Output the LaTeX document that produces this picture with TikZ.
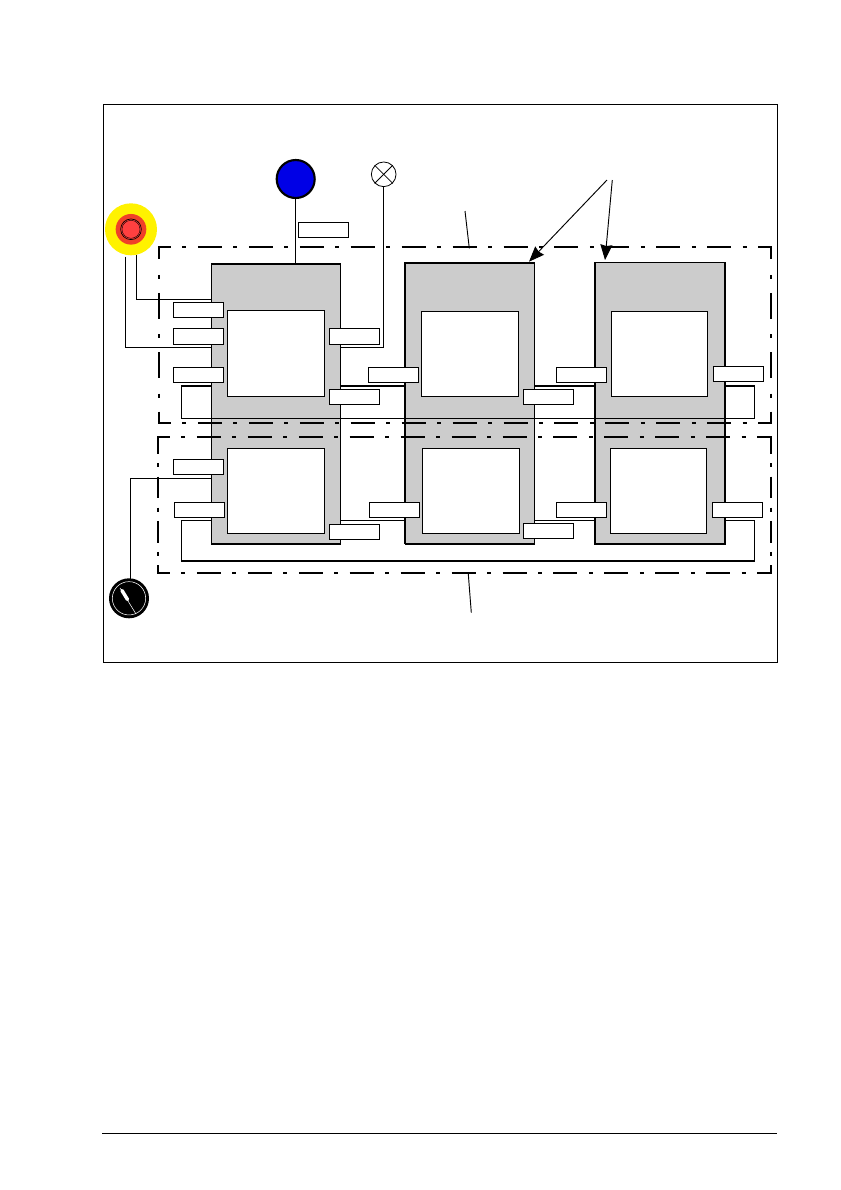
\documentclass[tikz,border=0pt]{standalone}
\usepackage{tikz}
\usetikzlibrary{shapes.geometric, arrows.meta, positioning, calc}

\definecolor{panelgray}{HTML}{CCCCCC}
\definecolor{stopred}{HTML}{F04028}
\definecolor{capred}{HTML}{FF4040}
\definecolor{pushblue}{HTML}{0000E6}

\begin{document}
\begin{tikzpicture}[
    x=0.75pt, y=-0.75pt,
    wire/.style={line width=0.75pt},
    heavy/.style={line width=1.5pt},
    block/.style={rectangle, minimum width=96.75pt, inner sep=0pt, fill=panelgray, draw=black, line width=0.75pt},
    screen/.style={rectangle, minimum width=72.5pt, minimum height=64pt, inner sep=0pt, fill=white, draw=black, line width=0.75pt},
    tag/.style={rectangle, minimum width=37.5pt, minimum height=11.5pt, inner sep=0pt, fill=white, draw=black, line width=0.7pt},
    tagtall/.style={tag, minimum height=12pt},
    bus/.style={rectangle, minimum width=429.75pt, inner sep=0pt, draw=black, line width=0.75pt},
    zoneH/.style={line width=1.6pt, dash pattern=on 18pt off 8.6pt on 3pt off 8.6pt, dash phase=8.25pt},
    zoneV/.style={line width=1.6pt, dash pattern=on 19.5pt off 11.6pt on 3pt off 10.5pt, dash phase=10.25pt},
    zoneVshort/.style={line width=1.6pt, dash pattern=on 16.2pt off 7pt on 3pt off 7pt, dash phase=3.45pt},
    pointer/.style={line width=0.7pt, -{Stealth[length=11.5pt, width=9pt, inset=1pt]}},
    leader/.style={line width=0.7pt},
]
    \useasboundingbox (0,0) rectangle (840,1190);

    \node (frame) [rectangle, draw=black, line width=0.75pt, inner sep=0pt, minimum width=505.5pt, minimum height=418.5pt] at (440.5,383.5) {};
    \node (rule) [rectangle, fill=black, inner sep=0pt, minimum width=506.25pt, minimum height=0.9pt] at (439.5,1133.3) {};

    \node (busU) [bus, minimum height=24.2pt] at (467.8,402.2) {};
    \node (busL) [bus, minimum height=29.8pt] at (467.8,540.2) {};
    \draw [heavy] (busU.north west) -- (busU.north east);
    \draw [heavy] (busL.south west) -- (busL.south east);

    \node (blockA) [block, minimum height=209.25pt] at (276,403.5) {};
    \node (blockB) [block, minimum height=210pt] at (470,403.3) {};
    \node (blockC) [block, minimum height=210.4pt] at (659.5,403) {};

    \draw [heavy] (blockA.north west) -- (blockA.north east);
    \draw [heavy] (blockA.south west) -- (blockA.south east);
    \draw [heavy] (blockB.south west) -- (blockB.north west) -- (blockB.north east);
    \draw [heavy] (blockB.south west) -- (blockB.south east);
    \draw [heavy] (blockC.north west) -- (blockC.south west) -- (blockC.south east) -- (blockC.north east);

    \draw [wire] (busU.south west) -- (busU.south east);

    \node (screenA) [screen] at (276.3,353.5) {};
    \node (screenB) [screen] at (470.3,353.8) {};
    \node (screenC) [screen] at (659.5,353.8) {};
    \node (screenD) [screen] at (275.8,491.3) {};
    \node (screenE) [screen] at (471.3,491.3) {};
    \node (screenF) [screen] at (658.5,491.3) {};

    \draw [zoneH] (158,247) -- (772,247);
    \draw [zoneH] (158,423) -- (772,423);
    \draw [zoneV] (159,247) -- (159,423);
    \draw [zoneV] (771,247) -- (771,423);

    \draw [zoneH] (157,437) -- (772,437);
    \draw [zoneH] (157,573) -- (772,573);
    \draw [zoneVshort] (158,437) -- (158,573);
    \draw [zoneVshort] (771,437) -- (771,573);

    \node (estop) [circle, fill=yellow, inner sep=0pt, minimum size=39pt] at (131,229.3) {};
    \node (estopbase) [circle, fill=stopred, inner sep=0pt, minimum size=23pt] at (estop) {};
    \node (estopcap) [circle, fill=capred, draw=black, line width=0.5pt, inner sep=0pt, minimum size=15.5pt] at (estop) {};
    \node (estoprim) [circle, draw=black, line width=0.3pt, inner sep=0pt, minimum size=13.5pt] at (estop) {};

    \node (push) [circle, fill=pushblue, draw=black, line width=1.6pt, inner sep=0pt, minimum size=28.5pt] at (295.7,179) {};

    \node (lamp) [circle, fill=white, draw=black, line width=0.6pt, inner sep=0pt, minimum size=18.5pt] at (383.7,174.3) {};
    \draw [line width=0.6pt] (lamp.north west) -- (lamp.south east);
    \draw [line width=0.6pt] (lamp.north east) -- (lamp.south west);

    \node (knob) [circle, fill=black, inner sep=0pt, minimum size=30pt] at (129,598.3) {};
    \node (knobrim) [circle, draw=white, line width=0.4pt, inner sep=0pt, minimum size=25pt] at (knob) {};
    \draw [white, line width=0.4pt] (120,588) -- (136,614);
    \draw [white, line width=2.6pt, line cap=round] (122,590.5) -- (127.5,599.5);

    \coordinate (estopA) at (136.3,255);
    \coordinate (estopB) at (125.3,256.7);
    \coordinate (knobA) at (130.3,579);
    \coordinate (inA) at (211.5,299.3);
    \coordinate (inB) at (211.5,347.3);
    \coordinate (inC) at (211.5,478.3);
    \coordinate (outA) at (340.5,347.3);

    \draw [wire] (estopA) |- (inA);
    \draw [wire] (estopB) |- (inB);
    \draw [wire] (knobA) |- (inC);
    \draw [wire] (push.south) -- (push.south |- blockA.north);
    \draw [wire] (lamp.south) |- (outA);

    \node (tagTop) [tag] at (323,230) {};

    \node (tagA1) [tag] at (198.5,310) {};
    \node (tagA2) [tagtall] at (198.5,336.3) {};
    \node (tagA3) [tag] at (198.5,375) {};
    \node (tagA4) [tagtall] at (354.5,336.3) {};
    \node (tagA5) [tag] at (354,397) {};

    \node (tagB1) [tag] at (393.3,375) {};
    \node (tagB2) [tag] at (548,397) {};
    \node (tagC1) [tag] at (581,375) {};
    \node (tagC2) [tag] at (738,374) {};

    \node (tagD1) [tag] at (198,467) {};
    \node (tagD2) [tag] at (199,510) {};
    \node (tagD3) [tag] at (354.5,532) {};

    \node (tagE1) [tag] at (394.3,510) {};
    \node (tagE2) [tag] at (548.5,531) {};
    \node (tagF1) [tag] at (581.5,510) {};
    \node (tagF2) [tag] at (737.5,510) {};

    \coordinate (noteU) at (465,211);
    \coordinate (noteUend) at (469.3,248.3);
    \coordinate (noteL) at (471.3,612.7);
    \coordinate (noteLend) at (468.3,574);
    \coordinate (noteP) at (607,180);
    \coordinate (noteQ) at (612.3,180);
    \coordinate (tipB) at (529,261.7);
    \coordinate (tipC) at (605,260);

    \draw [leader] (noteU) -- (noteUend);
    \draw [leader] (noteL) -- (noteLend);
    \draw [pointer] (noteP) -- (tipB);
    \draw [pointer] (noteQ) -- (tipC);

\end{tikzpicture}
\end{document}
